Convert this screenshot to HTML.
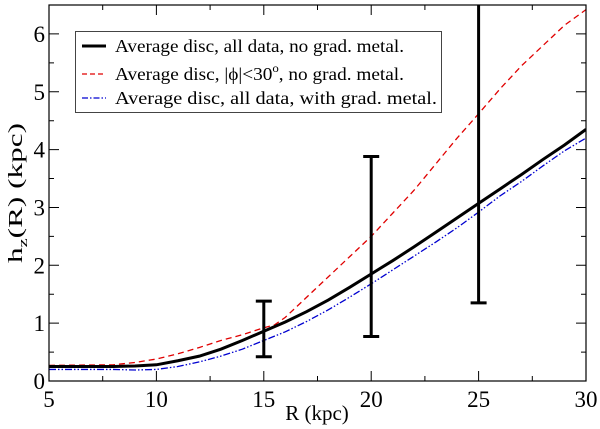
<!DOCTYPE html>
<html><head><meta charset="utf-8"><style>
body{margin:0;background:#fff}
svg{display:block}
text{font-family:"Liberation Serif","Times New Roman","Nimbus Roman","DejaVu Serif",serif}
</style></head><body>
<svg id="c" width="600" height="429" viewBox="0 0 600 429"></svg>
<script>
const xs=[5,8,9,10,11,12,13,14,15,16,17,18,19,20,21,22,23,24,25,26,27,28,29,30];
const blackY=[0.25,0.25,0.26,0.28,0.35,0.43,0.55,0.7,0.86,1.02,1.2,1.4,1.62,1.85,2.08,2.32,2.57,2.82,3.07,3.32,3.57,3.83,4.08,4.35];
const redX=[5,8,9,10,11,12,13,14,15,15.5,16,17,18,19,20,21,22,23,24,25,26,27,28,29,30];
const redY=[0.27,0.28,0.32,0.38,0.47,0.58,0.7,0.8,0.92,0.97,1.1,1.45,1.8,2.15,2.5,2.9,3.3,3.75,4.2,4.62,5.05,5.45,5.8,6.15,6.42];
const blueY=[0.2,0.2,0.19,0.2,0.25,0.33,0.43,0.55,0.7,0.85,1.03,1.23,1.45,1.68,1.92,2.16,2.4,2.65,2.92,3.2,3.45,3.72,3.98,4.2];
const errX=[15,20,25];
const errLo=[0.42,0.77,1.35];
const errHi=[1.38,3.88,6.6];
const xTicks=[5,10,15,20,25,30];
const yTicks=[0,1,2,3,4,5,6];
const L=49,R=586,T=5,B=381,X0=5,X1=30,Y0=0,Y1=6.5;
const sx=v=>L+(v-X0)/(X1-X0)*(R-L);
const sy=v=>B-(v-Y0)/(Y1-Y0)*(B-T);
const svg=document.getElementById('c');
const NS='http://www.w3.org/2000/svg';
function mk(t,a,p){const e=document.createElementNS(NS,t);for(const k in a)e.setAttribute(k,a[k]);(p||svg).appendChild(e);return e;}
const defs=mk('defs',{});const cp=mk('clipPath',{id:'cp'},defs);mk('rect',{x:L,y:T,width:R-L,height:B-T},cp);
const g=mk('g',{'clip-path':'url(#cp)'});
function line(X,Y,attrs,name){const p=mk('path',Object.assign({d:X.map((x,i)=>(i?'L':'M')+sx(x)+','+sy(Y[i])).join(''),fill:'none'},attrs),g);

}
line(redX,redY,{stroke:'#e00000','stroke-width':1.3,'stroke-dasharray':'6,4'},'series-phi-30');
line(xs,blueY,{stroke:'#0000d0','stroke-width':1.3,'stroke-dasharray':'7,2,1.5,2,1.5,2'},'series-grad-metal');
line(xs,blackY,{stroke:'#000','stroke-width':3},'series-all-data');
errX.forEach((x,i)=>{const e=mk('path',{d:`M${sx(x)},${sy(errLo[i])}V${sy(errHi[i])}M${sx(x)-8},${sy(errLo[i])}h16M${sx(x)-8},${sy(errHi[i])}h16`,stroke:'#000','stroke-width':3,fill:'none'},g);

});
const ax=mk('rect',{x:L,y:T,width:R-L,height:B-T,fill:'none',stroke:'#000','stroke-width':1.2});

for(let v=5;v<=30;v+=2.5){const maj=v%5==0,len=maj?10:5,x=sx(v);
mk('path',{d:`M${x},${B}v${-len}M${x},${T}v${len}`,stroke:'#000','stroke-width':1});}
for(let v=0;v<=6.5;v+=0.5){const maj=v%1==0,len=maj?10:5,y=sy(v);
mk('path',{d:`M${L},${y}h${len}M${R},${y}h${-len}`,stroke:'#000','stroke-width':1});}
xTicks.forEach(v=>{const t=mk('text',{x:sx(v),y:B+26,'font-size':23,'text-anchor':'middle'});t.textContent=v;
});
yTicks.forEach(v=>{const t=mk('text',{x:L-4,y:sy(v)+8,'font-size':23,'text-anchor':'end'});t.textContent=v;
});
</script>
<svg style="position:absolute;left:0;top:0" width="600" height="429">
<text x="317" y="420" font-size="21" text-anchor="middle">R (kpc)</text>
<text transform="translate(22,193) rotate(-90)" font-size="20" text-anchor="middle" textLength="140" lengthAdjust="spacingAndGlyphs">h<tspan font-size="13" dy="5">z</tspan><tspan dy="-5">(R) (kpc)</tspan></text>
<g font-size="18">
<rect x="75.5" y="31.5" width="366" height="81" fill="#fff" stroke="#444" stroke-width="1"/>
<line x1="82" y1="46" x2="106" y2="46" stroke="#000" stroke-width="3"/>
<text x="115" y="52" textLength="289" lengthAdjust="spacingAndGlyphs">Average disc, all data, no grad. metal.</text>
<line x1="82" y1="74" x2="106" y2="74" stroke="#e00000" stroke-width="1.3" stroke-dasharray="5,3"/>
<text x="115" y="80" textLength="289" lengthAdjust="spacingAndGlyphs">Average disc, |ϕ|&lt;30<tspan font-size="12" dy="-8">o</tspan><tspan dy="8">, no grad. metal.</tspan></text>
<line x1="82" y1="98" x2="106" y2="98" stroke="#0000d0" stroke-width="1.3" stroke-dasharray="6,2,1.5,2"/>
<text x="115" y="104" textLength="322" lengthAdjust="spacingAndGlyphs">Average disc, all data, with grad. metal.</text>
</g>
</svg>
</body></html>
